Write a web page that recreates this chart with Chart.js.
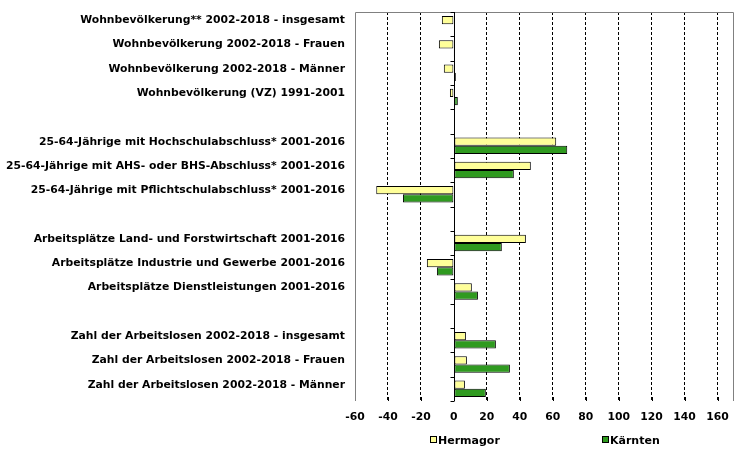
<!DOCTYPE html>
<html lang="de">
<head>
<meta charset="utf-8">
<title>Hermagor - Kärnten</title>
<script src="https://cdn.jsdelivr.net/npm/chart.js@4"></script>
<style>
  html, body { margin: 0; padding: 0; background: #fff; }
  #wrap { position: relative; width: 755px; height: 458px; }
  #legend { position: absolute; top: 434px; left: 0; width: 755px; height: 16px;
            font: bold 11px 'DejaVu Sans', Verdana, sans-serif; color: #000; }
  .item { position: absolute; top: 0; white-space: nowrap; }
  .box { display: inline-block; width: 5px; height: 5px; border: 1px solid #000;
         margin-right: 1px; vertical-align: 1px; }
</style>
</head>
<body>
<div id="wrap">
  <canvas id="chart" width="755" height="458"></canvas>
  <div id="legend"></div>
</div>
<script>
// Categories (empty strings are the spacer rows between groups)
const categories = [
    'Wohnbevölkerung** 2002-2018 - insgesamt',
    'Wohnbevölkerung 2002-2018 - Frauen',
    'Wohnbevölkerung 2002-2018 - Männer',
    'Wohnbevölkerung (VZ) 1991-2001',
    '',
    '25-64-Jährige mit Hochschulabschluss* 2001-2016',
    '25-64-Jährige mit AHS- oder BHS-Abschluss* 2001-2016',
    '25-64-Jährige mit Pflichtschulabschluss* 2001-2016',
    '',
    'Arbeitsplätze Land- und Forstwirtschaft 2001-2016',
    'Arbeitsplätze Industrie und Gewerbe 2001-2016',
    'Arbeitsplätze Dienstleistungen 2001-2016',
    '',
    'Zahl der Arbeitslosen 2002-2018 - insgesamt',
    'Zahl der Arbeitslosen 2002-2018 - Frauen',
    'Zahl der Arbeitslosen 2002-2018 - Männer'
];

// Change in percent
const hermagor = [-7.3, -9.1, -6.1, -2.4, null, 62.1, 46.7, -47.1, null, 43.7, -16.4, 10.9, null, 7.3, 7.9, 6.7];
const kaernten = [0.6, -0.4, 1.2, 2.4, null, 68.8, 36.4, -30.9, null, 29.1, -10.3, 14.6, null, 25.5, 34.0, 19.4];

const seriesNames = ['Hermagor', 'Kärnten'];
const seriesColors = ['#FFFF99', '#2F9A1F'];

// Value axis
const axisMin = -60;
const axisMax = 170;
const tickValues = [-60, -40, -20, 0, 20, 40, 60, 80, 100, 120, 140, 160];

const labelFont = { family: "'DejaVu Sans', Verdana, sans-serif", size: 10.8, weight: 'bold' };

// Plot frame, zero axis and tick marks
const framePlugin = {
    id: 'frame',
    afterDatasetsDraw(chart) {
        const { ctx, chartArea: a, scales: { x, y } } = chart;
        ctx.save();
        ctx.lineWidth = 1;

        ctx.strokeStyle = '#808080';
        ctx.beginPath();
        ctx.moveTo(a.left + 0.5, a.bottom);
        ctx.lineTo(a.left + 0.5, a.top + 0.5);
        ctx.lineTo(a.right - 0.5, a.top + 0.5);
        ctx.lineTo(a.right - 0.5, a.bottom);
        ctx.stroke();

        // bottom tick marks
        ctx.strokeStyle = '#000';
        ctx.beginPath();
        tickValues.forEach(v => {
            if (v <= axisMin) return;
            const px = Math.round(x.getPixelForValue(v)) + 0.5;
            ctx.moveTo(px, a.bottom - 4);
            ctx.lineTo(px, a.bottom);
        });
        ctx.stroke();

        // category axis at zero
        const x0 = Math.round(x.getPixelForValue(0)) + 0.5;
        ctx.beginPath();
        ctx.moveTo(x0, a.top);
        ctx.lineTo(x0, a.bottom);
        for (let i = 0; i <= categories.length; i++) {
            const py = Math.round(y.getPixelForValue(i - 0.5)) + 0.5;
            ctx.moveTo(x0 - 4, py);
            ctx.lineTo(x0, py);
        }
        ctx.stroke();
        ctx.restore();
    }
};

const chart = new Chart(document.getElementById('chart'), {
    type: 'bar',
    data: {
        labels: categories,
        datasets: [
            {
                label: seriesNames[0],
                data: hermagor,
                backgroundColor: seriesColors[0],
                borderColor: '#000',
                borderWidth: 1,
                borderSkipped: false
            },
            {
                label: seriesNames[1],
                data: kaernten,
                backgroundColor: seriesColors[1],
                borderColor: '#000',
                borderWidth: 1,
                borderSkipped: false
            }
        ]
    },
    options: {
        indexAxis: 'y',
        responsive: false,
        animation: false,
        categoryPercentage: 0.68,
        barPercentage: 1,
        layout: { padding: { top: 12, right: 21, bottom: 0, left: 0 } },
        plugins: {
            legend: { display: false },
            tooltip: { enabled: false }
        },
        scales: {
            x: {
                min: axisMin,
                max: axisMax,
                afterBuildTicks: s => { s.ticks = tickValues.map(v => ({ value: v })); },
                ticks: {
                    autoSkip: false,
                    maxRotation: 0,
                    padding: 10,
                    color: '#000',
                    font: labelFont
                },
                grid: {
                    drawTicks: false,
                    lineWidth: 1,
                    color: ctx => {
                        const v = ctx.tick && ctx.tick.value;
                        return (v === 0 || v <= axisMin) ? 'rgba(0,0,0,0)' : '#000';
                    }
                },
                border: { display: false, dash: [3, 2] },
                afterFit: s => { s.height = 57; }
            },
            y: {
                ticks: {
                    autoSkip: false,
                    padding: 10,
                    labelOffset: -4,
                    color: '#000',
                    font: labelFont
                },
                grid: { display: false, drawTicks: false },
                border: { display: false },
                afterFit: s => {
                    s.width = 355;
                    s.paddingTop = 0;
                    s.paddingBottom = 0;
                }
            }
        }
    },
    plugins: [framePlugin]
});

// Legend below the plot
const legendLeft = [430, 602];
const legend = document.getElementById('legend');
chart.data.datasets.forEach((ds, i) => {
    const item = document.createElement('span');
    item.className = 'item';
    item.style.left = legendLeft[i] + 'px';
    const box = document.createElement('span');
    box.className = 'box';
    box.style.background = ds.backgroundColor;
    item.appendChild(box);
    item.appendChild(document.createTextNode(ds.label));
    legend.appendChild(item);
});
</script>
</body>
</html>
